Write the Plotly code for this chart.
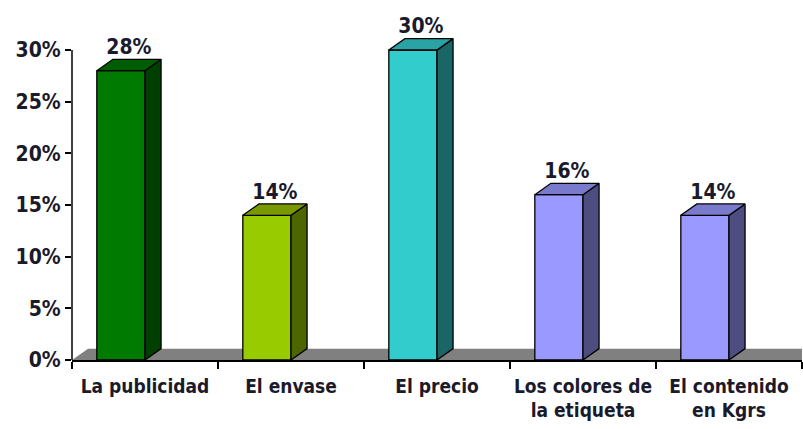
import plotly.graph_objects as go

categories = ["La publicidad", "El envase", "El precio", "Los colores de<br>la etiqueta", "El contenido<br>en Kgrs"]
values = [28, 14, 30, 16, 14]
value_labels = ["28%", "14%", "30%", "16%", "14%"]
front_colors = ["#007A00", "#99CC00", "#33CCCC", "#9999FF", "#9999FF"]
side_colors = ["#003F00", "#4D6600", "#1A6666", "#4D4D80", "#4D4D80"]
top_colors = ["#005C00", "#7A9900", "#29A3A3", "#7A7ACC", "#7A7ACC"]
y_ticks = [0, 5, 10, 15, 20, 25, 30]

BAR_L, BAR_R = -0.33, 0.0
DX, DY = 0.11, 1.1
YMAX = 33
FONT = "DejaVu Sans Condensed, DejaVu Sans, sans-serif"
TXT = "#1a1a2a"

fig = go.Figure()
n = len(categories)
# floor
x0, x1 = -0.5, n - 0.5
fig.add_trace(go.Scatter(x=[x0, x1, x1 + DX, x0 + DX, x0], y=[0, 0, DY, DY, 0],
                         fill="toself", fillcolor="#808080", mode="lines",
                         line=dict(color="#808080", width=0), hoverinfo="skip", showlegend=False))
for i, v in enumerate(values):
    l, r = i + BAR_L, i + BAR_R
    polys = [
        ([l, r, r, l, l], [0, 0, v, v, 0], front_colors[i]),
        ([r, r + DX, r + DX, r, r], [0, DY, v + DY, v, 0], side_colors[i]),
        ([l, r, r + DX, l + DX, l], [v, v, v + DY, v + DY, v], top_colors[i]),
    ]
    for px, py, c in polys:
        fig.add_trace(go.Scatter(x=px, y=py, fill="toself", fillcolor=c, mode="lines",
                                 line=dict(color="black", width=1.3), hoverinfo="skip",
                                 showlegend=False))

fig.add_trace(go.Scatter(x=[i + (BAR_L + BAR_R + DX) / 2 for i in range(n)],
                         y=[v + DY for v in values], mode="text", text=value_labels,
                         textposition="top center", cliponaxis=False,
                         textfont=dict(family=FONT, size=21, color=TXT, weight="bold"),
                         hoverinfo="skip", showlegend=False))

fig.update_layout(
    width=803, height=429,
    margin=dict(l=72, r=1, t=19, b=69),
    plot_bgcolor="white", paper_bgcolor="white",
    xaxis=dict(range=[x0, x1], tickvals=list(range(n)), ticktext=categories,
               ticks="", showgrid=False, zeroline=False, showline=True,
               linecolor="black", linewidth=1.5, ticklabelstandoff=8,
               tickfont=dict(family=FONT, size=19, color=TXT, weight="bold"),
               minor=dict(tick0=0.5, dtick=1, ticks="outside", ticklen=7,
                          tickcolor="black", tickwidth=1.5, showgrid=False)),
    yaxis=dict(range=[0, YMAX], tickvals=y_ticks, ticktext=[f"{t}%" for t in y_ticks],
               ticks="outside", ticklen=6, tickcolor="black", tickwidth=1.5,
               showgrid=False, zeroline=False, showline=False,
               tickfont=dict(family=FONT, size=21, color=TXT, weight="bold")),
    shapes=[dict(type="line", xref="paper", yref="paper", x0=0, x1=0,
                 y0=0, y1=max(y_ticks) / YMAX, line=dict(color="black", width=1.5))],
)
fig.write_html("out.html")
